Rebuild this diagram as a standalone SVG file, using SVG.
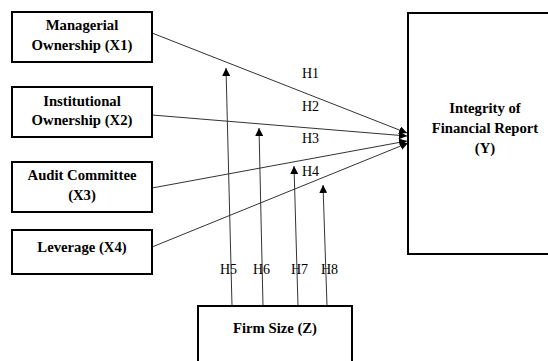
<svg xmlns="http://www.w3.org/2000/svg" width="548" height="361" viewBox="0 0 548 361">
<style>
.box{fill:#fff;stroke:#000;stroke-width:2}
.t{font-family:"Liberation Serif","Times New Roman",serif;font-weight:bold;font-size:14.7px;text-anchor:middle;fill:#000}
.h{font-family:"Liberation Serif","Times New Roman",serif;font-size:14px;fill:#000}
.c{stroke:#333;stroke-width:1;fill:none;marker-end:url(#ah)}
</style>
<defs>
<marker id="ah" viewBox="0 0 10 10" refX="10" refY="5" markerWidth="8" markerHeight="8" markerUnits="userSpaceOnUse" orient="auto">
<path d="M0,0 L10,5 L0,10 z" fill="#000"/>
</marker>
</defs>
<rect width="548" height="361" fill="#fff"/>
<g id="connectors">
<line class="c" x1="152" y1="33" x2="407" y2="133"/>
<line class="c" x1="152" y1="115" x2="407" y2="136"/>
<line class="c" x1="152" y1="188" x2="407" y2="141"/>
<line class="c" x1="152" y1="247" x2="408" y2="143"/>
<line class="c" x1="232" y1="306" x2="226" y2="68"/>
<line class="c" x1="263" y1="306" x2="259" y2="128"/>
<line class="c" x1="298" y1="306" x2="294" y2="166"/>
<line class="c" x1="327" y1="306" x2="323" y2="185"/>
<text class="h" x="302" y="78">H1</text>
<text class="h" x="302" y="111">H2</text>
<text class="h" x="302" y="143">H3</text>
<text class="h" x="302" y="176">H4</text>
<text class="h" x="220" y="274">H5</text>
<text class="h" x="253" y="274">H6</text>
<text class="h" x="291" y="274">H7</text>
<text class="h" x="321" y="274">H8</text>
</g>
<g id="x1">
<rect class="box" x="12" y="12" width="140" height="50"/>
<text class="t" x="82" y="30">Managerial</text>
<text class="t" x="82" y="50">Ownership (X1)</text>
</g>
<g id="x2">
<rect class="box" x="12" y="87" width="140" height="50"/>
<text class="t" x="82" y="106">Institutional</text>
<text class="t" x="82" y="125">Ownership (X2)</text>
</g>
<g id="x3">
<rect class="box" x="12" y="162" width="140" height="50"/>
<text class="t" x="82" y="180">Audit Committee</text>
<text class="t" x="82" y="200">(X3)</text>
</g>
<g id="x4">
<rect class="box" x="12" y="230" width="140" height="44"/>
<text class="t" x="82" y="252">Leverage (X4)</text>
</g>
<g id="y">
<rect class="box" x="408" y="13" width="150" height="241"/>
<text class="t" x="485" y="113">Integrity of</text>
<text class="t" x="485" y="133">Financial Report</text>
<text class="t" x="485" y="153">(Y)</text>
</g>
<g id="z">
<rect class="box" x="198" y="306" width="154" height="70"/>
<text class="t" x="275" y="333">Firm Size (Z)</text>
</g>
</svg>
